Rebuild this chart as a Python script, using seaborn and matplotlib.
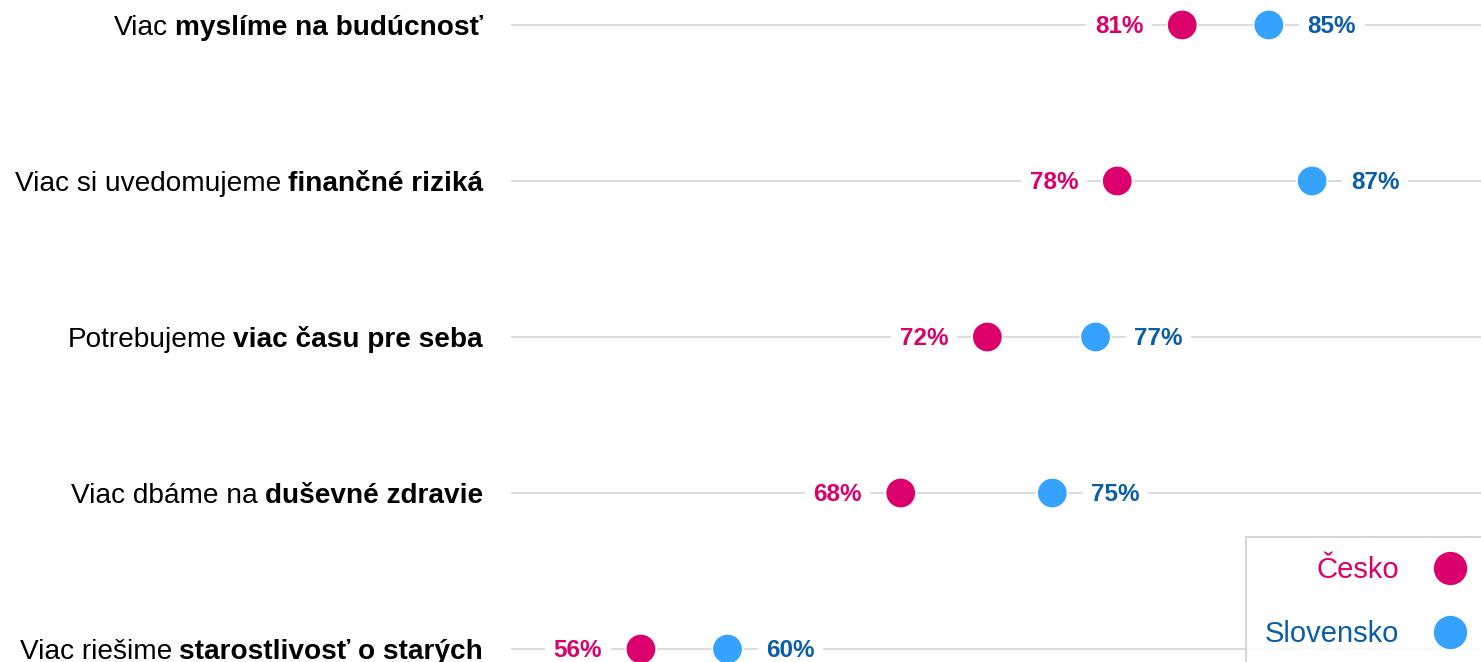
import matplotlib
matplotlib.use("Agg")
import matplotlib.pyplot as plt
import matplotlib.transforms as mtransforms
from matplotlib.lines import Line2D
import seaborn as sns
import pandas as pd

# ---- data ----
cat_normal = ["Viac", "Viac si uvedomujeme", "Potrebujeme", "Viac dbáme na", "Viac riešime"]
cat_bold = ["myslíme na budúcnosť", "finančné riziká", "viac času pre seba",
            "duševné zdravie", "starostlivosť o starých"]
cesko = [81, 78, 72, 68, 56]
slovensko = [85, 87, 77, 75, 60]
series_names = ["Česko", "Slovensko"]

PINK = "#DC006C"
BLUE_DOT = "#36A2FF"
BLUE_TXT = "#0A5DA6"
GRID = "#DDDDDD"

sns.set_theme(style="white")
plt.rcParams["font.family"] = ["Liberation Sans", "DejaVu Sans"]

W, H = 1481, 662
fig = plt.figure(figsize=(W / 100, H / 100), dpi=100)
ax = fig.add_axes([511 / W, 0, 1 - 511 / W, 1])

rows = list(range(len(cat_bold)))
df = pd.DataFrame({
    "row": rows * 2,
    "value": cesko + slovensko,
    "country": [series_names[0]] * len(rows) + [series_names[1]] * len(rows),
})

for r in rows:
    ax.axhline(r, color=GRID, lw=1.5, zorder=1)

sns.scatterplot(data=df, x="value", y="row", hue="country",
                palette={series_names[0]: PINK, series_names[1]: BLUE_DOT},
                s=480, edgecolor="white", linewidth=1.2, zorder=3,
                legend=False, ax=ax)

ax.set_xlim(50, 94.8)
ax.set_ylim(4.083, -0.16)
ax.set_axis_off()

# value labels
for r, c, s in zip(rows, cesko, slovensko):
    ax.annotate(f"{c}%", (c, r), xytext=(-28, -6), textcoords="offset points",
                ha="right", va="baseline", fontsize=17.5, fontweight="bold", color=PINK,
                zorder=4, bbox=dict(boxstyle="square,pad=0.35", fc="white", ec="none"))
    ax.annotate(f"{s}%", (s, r), xytext=(28, -6), textcoords="offset points",
                ha="left", va="baseline", fontsize=17.5, fontweight="bold", color=BLUE_TXT,
                zorder=4, bbox=dict(boxstyle="square,pad=0.35", fc="white", ec="none"))

# category labels (normal + bold parts)
renderer = fig.canvas.get_renderer()
base = mtransforms.blended_transform_factory(fig.transFigure, ax.transData)
trans = base + mtransforms.ScaledTranslation(0, -7.2 / 72, fig.dpi_scale_trans)
for r, nt, bt in zip(rows, cat_normal, cat_bold):
    tb = ax.text(483 / W, r, bt, fontsize=20.2, fontweight="bold", ha="right",
                 va="baseline", color="black", transform=trans)
    bb = tb.get_window_extent(renderer)
    x_left = (bb.x0 - 7.0) / fig.bbox.width
    ax.text(x_left, r, nt, fontsize=20.2, ha="right", va="baseline",
            color="black", transform=trans)

# legend
handles = [
    Line2D([], [], marker="o", ls="none", markersize=25, markerfacecolor=PINK,
           markeredgecolor="white"),
    Line2D([], [], marker="o", ls="none", markersize=25, markerfacecolor=BLUE_DOT,
           markeredgecolor="white"),
]
leg = fig.legend(handles, series_names, loc="upper left",
                 bbox_to_anchor=(1246 / W, 1 - 537 / H), bbox_transform=fig.transFigure,
                 borderaxespad=0, fontsize=21, markerfirst=False, frameon=True,
                 fancybox=False, edgecolor="#CCCCCC", handlelength=2.24,
                 handletextpad=0.6, borderpad=0.65, labelspacing=1.24)
leg.get_frame().set_linewidth(1.5)
for t, col in zip(leg.get_texts(), [PINK, BLUE_TXT]):
    t.set_color(col)

fig.savefig("out.png", dpi=100)
